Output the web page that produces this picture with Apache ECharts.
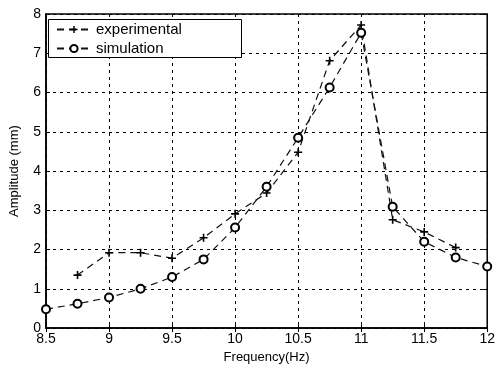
<!DOCTYPE html>
<html>
<head>
<meta charset="utf-8">
<style>
  * { margin: 0; padding: 0; }
  body { background: #ffffff; }
  #chart { width: 498px; height: 369px; }
</style>
</head>
<body>
<div id="chart"></div>
<script src="https://cdn.jsdelivr.net/npm/echarts@6/dist/echarts.min.js"></script>
<script>
// 频率 (Hz)
var expFreq = [8.75, 9, 9.25, 9.5, 9.75, 10, 10.25, 10.5, 10.75, 11, 11.25, 11.5, 11.75];
var expAmp = [1.35, 1.92, 1.92, 1.78, 2.3, 2.91, 3.44, 4.48, 6.81, 7.72, 2.76, 2.45, 2.05];
var simFreq = [8.5, 8.75, 9, 9.25, 9.5, 9.75, 10, 10.25, 10.5, 10.75, 11, 11.25, 11.5, 11.75, 12];
var simAmp = [0.48, 0.62, 0.78, 1.0, 1.3, 1.75, 2.56, 3.6, 4.85, 6.13, 7.52, 3.09, 2.2, 1.8, 1.57];

var zip = function (xs, ys) {
  return xs.map(function (x, i) { return [x, ys[i]]; });
};

var FONT = 'Liberation Sans, Arial, sans-serif';
var plusSymbol = 'path://M4,0H6V4H10V6H6V10H4V6H0V4H4Z';

var chart = echarts.init(document.getElementById('chart'));

var option = {
  backgroundColor: '#ffffff',
  animation: false,
  grid: {
    left: 43,
    right: 9,
    top: 14,
    bottom: 39,
    show: true,
    borderColor: '#000',
    borderWidth: 1.5,
  },
  // 图例外框（比文字更宽）
  graphic: [
    {
      type: 'rect',
      left: 48,
      top: 19,
      z: 3,
      shape: { width: 193, height: 38 },
      style: { fill: '#ffffff', stroke: '#000', lineWidth: 1 },
    },
  ],
  legend: {
    orient: 'vertical',
    left: 48,
    top: 19,
    z: 5,
    padding: [3, 8, 3, 8],
    itemGap: 4,
    itemWidth: 34,
    itemHeight: 9,
    borderWidth: 0,
    textStyle: { color: '#000', fontSize: 15, fontFamily: FONT },
    data: ['experimental', 'simulation'],
  },
  xAxis: [
    {
      type: 'value',
      min: 8.5,
      max: 12,
      interval: 0.5,
      name: 'Frequency(Hz)',
      nameLocation: 'middle',
      nameGap: 22,
      nameTextStyle: { color: '#000', fontSize: 13, fontFamily: FONT },
      axisLine: { onZero: false, lineStyle: { color: '#000', width: 1.5 } },
      axisTick: { inside: true, length: 4, lineStyle: { color: '#000' } },
      axisLabel: { color: '#000', fontSize: 14, fontFamily: FONT, margin: 4 },
      splitLine: { show: true, lineStyle: { color: '#000', type: [3, 4], width: 1 } },
    },
    {
      type: 'value',
      position: 'top',
      min: 8.5,
      max: 12,
      interval: 0.5,
      axisLine: { show: false },
      axisTick: { inside: true, length: 4, lineStyle: { color: '#000' } },
      axisLabel: { show: false },
      splitLine: { show: false },
    },
  ],
  yAxis: [
    {
      type: 'value',
      min: 0,
      max: 8,
      interval: 1,
      name: 'Amplitude (mm)',
      nameLocation: 'middle',
      nameGap: 25,
      nameTextStyle: { color: '#000', fontSize: 13, fontFamily: FONT },
      axisLine: { show: true, lineStyle: { color: '#000', width: 1.5 } },
      axisTick: { show: true, inside: true, length: 4, lineStyle: { color: '#000' } },
      axisLabel: { color: '#000', fontSize: 14, fontFamily: FONT, margin: 5 },
      splitLine: { show: true, lineStyle: { color: '#000', type: [3, 4], width: 1 } },
    },
    {
      type: 'value',
      position: 'right',
      min: 0,
      max: 8,
      interval: 1,
      axisLine: { show: false },
      axisTick: { show: true, inside: true, length: 4, lineStyle: { color: '#000' } },
      axisLabel: { show: false },
      splitLine: { show: false },
    },
  ],
  series: [
    {
      name: 'experimental',
      type: 'line',
      data: zip(expFreq, expAmp),
      symbol: plusSymbol,
      symbolSize: 8,
      itemStyle: { color: '#000' },
      lineStyle: { color: '#111', width: 1.2, type: [7, 5] },
    },
    {
      name: 'simulation',
      type: 'line',
      data: zip(simFreq, simAmp),
      symbol: 'emptyCircle',
      symbolSize: 8,
      itemStyle: { color: '#000', borderColor: '#000', borderWidth: 1 },
      lineStyle: { color: '#111', width: 1.2, type: [7, 5] },
    },
  ],
};

chart.setOption(option);
</script>
</body>
</html>
